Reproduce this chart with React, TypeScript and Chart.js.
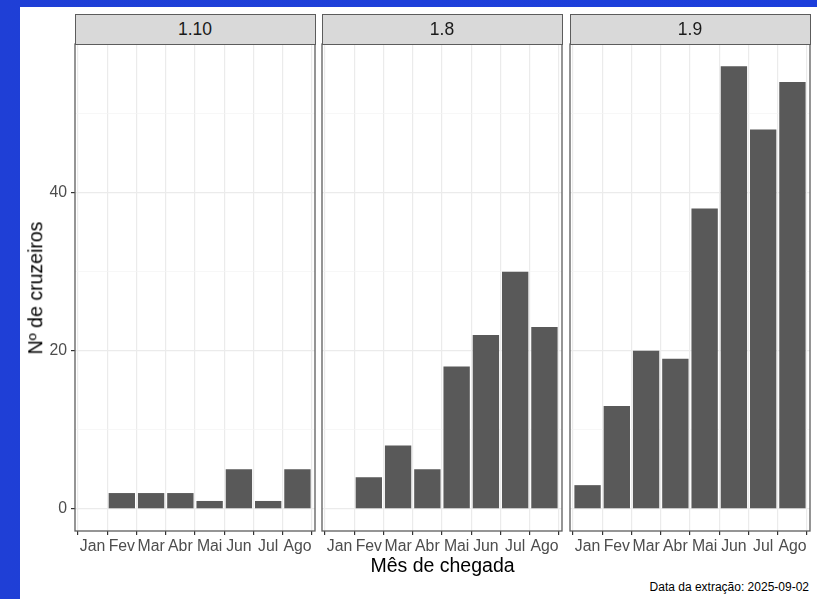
import React, { useEffect, useRef } from 'react';
import { Chart, registerables } from 'chart.js';

Chart.register(...registerables);

// ---- data ----
const months = ['Jan', 'Fev', 'Mar', 'Abr', 'Mai', 'Jun', 'Jul', 'Ago'];
const facetLabels = ['1.10', '1.8', '1.9'];
const values110: (number | null)[] = [null, 2, 2, 2, 1, 5, 1, 5];
const values18: (number | null)[] = [null, 4, 8, 5, 18, 22, 30, 23];
const values19: (number | null)[] = [3, 13, 20, 19, 38, 56, 48, 54];
const yTickValues = [0, 10, 20, 30, 40, 50];
const yLabelValues = [0, 20, 40];
const yTitle = 'Nº de cruzeiros';
const xTitle = 'Mês de chegada';
const caption = 'Data da extração: 2025-09-02';

const seriesByFacet = [values110, values18, values19];

// ---- layout / style ----
const FONT = "'Liberation Sans', Arial, sans-serif";
const panelLefts = [75, 322, 570];
const panelWidth = 240;
const stripTop = 14;
const plotTop = 44;
const canvasTop = 40;
const canvasHeight = 522;
const xAxisHeight = 31;
const BAR = '#595959';
const GRID = '#EBEBEB';
const GRID_MINOR = '#F3F3F3';
const BORDER = '#5c5c5c';

const borderPlugin = {
  id: 'panelBorder',
  afterDraw(chart: any) {
    const { ctx, chartArea } = chart;
    ctx.save();
    ctx.strokeStyle = BORDER;
    ctx.lineWidth = 1.3;
    ctx.strokeRect(chartArea.left, chartArea.top, chartArea.right - chartArea.left, chartArea.bottom - chartArea.top);
    ctx.restore();
  },
};

function makeConfig(values: (number | null)[], first: boolean, yWidth: number): any {
  // ggplot-like expansions
  const dataMax = Math.max(...seriesByFacet.flat().map((v) => (v == null ? 0 : v)));
  const yMin = -0.05 * dataMax;
  const yMax = dataMax * 1.05;
  return {
    type: 'bar',
    data: {
      datasets: [
        {
          data: months.map((_, i) => ({ x: i + 1, y: values[i] })),
          backgroundColor: BAR,
          borderWidth: 0,
          barPercentage: 0.9,
          categoryPercentage: 1.0,
        },
      ],
    },
    options: {
      responsive: false,
      animation: false,
      devicePixelRatio: 1,
      layout: { padding: { top: plotTop - canvasTop, right: 4, left: 0, bottom: 0 } },
      plugins: { legend: { display: false }, tooltip: { enabled: false }, title: { display: false } },
      scales: {
        x: {
          type: 'linear',
          min: 0.4,
          max: months.length + 0.6,
          offset: false,
          afterBuildTicks: (scale: any) => {
            scale.ticks = months.map((_, i) => ({ value: i + 1 }));
          },
          afterFit: (scale: any) => {
            scale.height = xAxisHeight;
            scale.paddingLeft = 0;
            scale.paddingRight = 0;
          },
          border: { display: false },
          grid: {
            color: GRID,
            lineWidth: 1.2,
            drawTicks: true,
            tickLength: 4,
            tickColor: '#333333',
            tickWidth: 1.2,
          },
          ticks: {
            autoSkip: false,
            maxRotation: 0,
            minRotation: 0,
            padding: 2,
            color: '#4D4D4D',
            font: { family: FONT, size: 15.8 },
            callback: (v: any) => months[Math.round(Number(v)) - 1] ?? '',
          },
        },
        y: {
          type: 'linear',
          min: yMin,
          max: yMax,
          afterBuildTicks: (scale: any) => {
            scale.ticks = yTickValues.map((v) => ({ value: v }));
          },
          afterFit: (scale: any) => {
            scale.width = yWidth;
            scale.paddingTop = 0;
            scale.paddingBottom = 0;
          },
          border: { display: false },
          grid: {
            color: (c: any) => (yLabelValues.includes(c.tick?.value) ? GRID : GRID_MINOR),
            lineWidth: (c: any) => (yLabelValues.includes(c.tick?.value) ? 1.2 : 0.7),
            drawTicks: first,
            tickLength: 4,
            tickColor: (c: any) => (yLabelValues.includes(c.tick?.value) ? '#333333' : 'rgba(0,0,0,0)'),
            tickWidth: 1.2,
          },
          ticks: {
            display: first,
            padding: 4,
            color: '#4D4D4D',
            font: { family: FONT, size: 15.8 },
            callback: (v: any) => (yLabelValues.includes(Number(v)) ? String(v) : ''),
          },
        },
      },
    },
    plugins: [borderPlugin],
  };
}

export default function App() {
  const refs = [useRef<HTMLCanvasElement>(null), useRef<HTMLCanvasElement>(null), useRef<HTMLCanvasElement>(null)];

  useEffect(() => {
    const charts = seriesByFacet.map((vals, i) => {
      const yWidth = i === 0 ? panelLefts[0] - 20 : 4;
      return new Chart(refs[i].current as HTMLCanvasElement, makeConfig(vals, i === 0, yWidth));
    });
    return () => charts.forEach((c) => c.destroy());
  }, []);

  const canvasGeom = panelLefts.map((pl, i) => {
    const left = i === 0 ? 20 : pl - 4;
    const yWidth = pl - left;
    return { left, width: yWidth + panelWidth + 4 };
  });

  return (
    <div
      style={{
        position: 'absolute',
        left: 0,
        top: 0,
        width: 817,
        height: 599,
        overflow: 'hidden',
        background: 'linear-gradient(90deg, #1f3fd6 0%, #1e40da 50%, #1c3edb 100%)',
        fontFamily: FONT,
      }}
    >
      <div style={{ position: 'absolute', left: 20, top: 7, width: 797, height: 592, background: '#ffffff' }} />
      {canvasGeom.map((g, i) => (
        <canvas
          key={i}
          ref={refs[i]}
          width={g.width}
          height={canvasHeight}
          style={{ position: 'absolute', left: g.left, top: canvasTop, width: g.width, height: canvasHeight }}
        />
      ))}
      {panelLefts.map((pl, i) => (
        <div
          key={'s' + i}
          style={{
            position: 'absolute',
            left: pl - 0.5,
            top: stripTop,
            width: panelWidth + 1,
            height: plotTop - stripTop + 0.5,
            boxSizing: 'border-box',
            background: '#D9D9D9',
            border: `1.3px solid ${BORDER}`,
            color: '#1A1A1A',
            fontSize: 17.5,
            display: 'flex',
            alignItems: 'center',
            justifyContent: 'center',
            lineHeight: 1,
          }}
        >
          {facetLabels[i]}
        </div>
      ))}
      <div
        style={{
          position: 'absolute',
          left: 36,
          top: 288,
          transform: 'translate(-50%, -50%) rotate(-90deg)',
          whiteSpace: 'nowrap',
          fontSize: 19.5,
          color: '#000',
          lineHeight: 1,
        }}
      >
        {yTitle}
      </div>
      <div
        style={{
          position: 'absolute',
          left: (panelLefts[0] + panelLefts[2] + panelWidth) / 2,
          top: 566,
          transform: 'translate(-50%, -50%)',
          whiteSpace: 'nowrap',
          fontSize: 19.5,
          color: '#000',
          lineHeight: 1,
        }}
      >
        {xTitle}
      </div>
      <div
        style={{
          position: 'absolute',
          right: 817 - 809,
          top: 587,
          transform: 'translateY(-50%)',
          whiteSpace: 'nowrap',
          fontSize: 12,
          color: '#000',
          lineHeight: 1,
        }}
      >
        {caption}
      </div>
    </div>
  );
}
